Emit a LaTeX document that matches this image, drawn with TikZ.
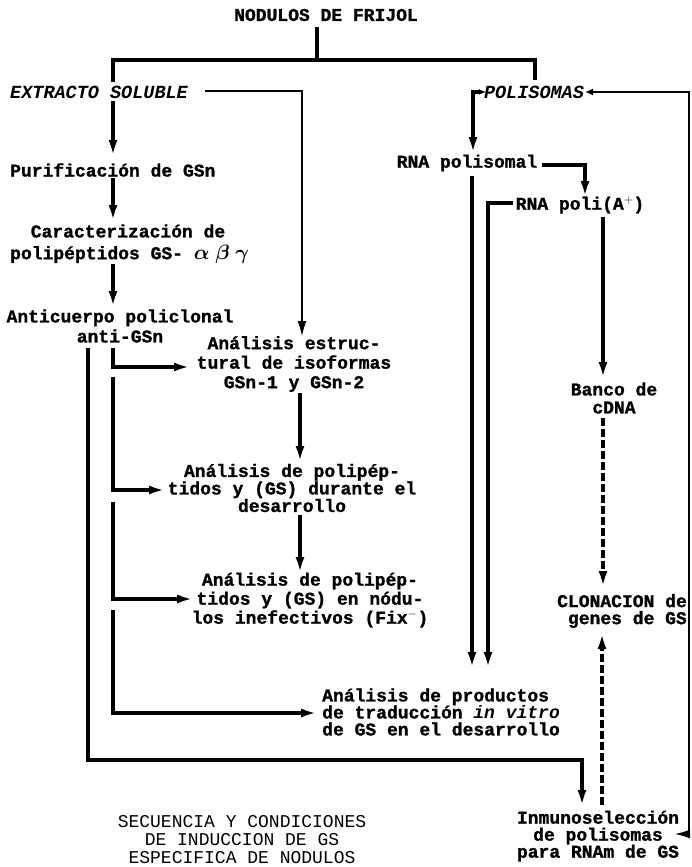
\documentclass[tikz,border=0pt]{standalone}
\usepackage{fontspec}
\usepackage{bm}
\usetikzlibrary{arrows.meta}
\newfontfamily\tw{Liberation Mono}[BoldFeatures={FakeBold=1.2}]
\begin{document}
\begin{tikzpicture}[x=1pt,y=-1pt,
  txt/.style={font=\tw\bfseries\fontsize{18}{18}\selectfont, inner sep=0pt, align=center},
  itx/.style={txt, font=\tw\bfseries\itshape\fontsize{18.5}{18.5}\selectfont},
  ln/.style={line width=3.2pt},
  thin/.style={line width=2.4pt},
  tip/.tip={Latex[length=16pt,width=9pt]},
  arr/.style={ln,-tip},
  dsh/.style={arr, dash pattern=on 8pt off 3pt}]
\useasboundingbox[fill=white] (0,0) rectangle (691,867);

% nodes
\node[txt] (nod) at (326,15) {NODULOS DE FRIJOL};
\node[itx, anchor=west] (ext) at (10,92) {EXTRACTO SOLUBLE};
\node[itx] (pol) at (534,92) {POLISOMAS};
\node[txt, anchor=west] (pur) at (10,170) {Purificación de GSn};
\node[txt] (car) at (128,231) {Caracterización de};
\node[txt, anchor=west] (car2) at (10,254) {polipéptidos GS- {\fontsize{20}{20}\selectfont$\bm{\alpha}\;\bm{\beta}\;\bm{\gamma}$}};
\node[txt, font=\tw\bfseries\fontsize{18}{20}\selectfont] (anti) at (120,326) {Anticuerpo policlonal\\anti-GSn};
\node[txt, font=\tw\bfseries\fontsize{18}{19.5}\selectfont] (est) at (294,364) {Análisis estruc-\\tural de isoformas\\GSn-1 y GSn-2};
\node[txt, font=\tw\bfseries\fontsize{18}{17.5}\selectfont] (p1) at (292,488) {Análisis de polipép-\\tidos y (GS) durante el\\desarrollo};
\node[txt, font=\tw\bfseries\fontsize{18}{19}\selectfont] (p2) at (310,600) {Análisis de polipép-\\tidos y (GS) en nódu-\\los inefectivos (Fix$^{-}$)};
\node[txt, font=\tw\bfseries\fontsize{18}{17}\selectfont, align=left, anchor=west] (prod) at (322,712) {Análisis de productos\\de traducción {\itshape in vitro}\\de GS en el desarrollo};
\node[txt] (rp) at (467,163) {RNA polisomal};
\node[txt] (rpa) at (580,205) {RNA poli(A$^{+}$)};
\node[txt] (banco) at (614,398) {Banco de\\cDNA};
\node[txt, font=\tw\bfseries\fontsize{18}{17}\selectfont, align=right, anchor=east] (clon) at (687,611) {CLONACION de\\genes de GS};
\node[txt, font=\tw\bfseries\fontsize{18}{17}\selectfont] (inm) at (598,836) {Inmunoselección\\de polisomas\\para RNAm de GS};
\node[txt, font=\tw\fontsize{18}{18}\selectfont] (sec) at (242,840) {SECUENCIA Y CONDICIONES\\DE INDUCCION DE GS\\ESPECIFICA DE NODULOS};

% corner coordinates
\coordinate (trunkT) at (317,27);
\coordinate (trunk) at (317,60);
\coordinate (barL) at (113,60);
\coordinate (barR) at (535,60);

% connectors
\draw[ln] (trunkT) -- (trunk);
\draw[ln] (113,82) -- (barL) -- (barR) -- (535,80);
\draw[arr] (113,101) -- (113,156);
\draw[ln, {Latex[length=7pt,width=6pt]}-tip] (486,92) -- (473,92) -- (473,153);
\draw[thin,-tip] (205,91) -- (302,91) -- (302,337);
\draw[arr] (113,178) -- (113,221);
\draw[arr] (113,264) -- (113,307);
\draw[arr] (88,348) -- (88,760) -- (582,760) -- (582,806);
\draw[arr] (113,348) -- (113,367) -- (190,367);
\draw[arr] (113,377) -- (113,490) -- (165,490);
\draw[arr] (113,502) -- (113,599) -- (193,599);
\draw[arr] (113,610) -- (113,713) -- (317,713);
\draw[arr] (300,393) -- (300,462);
\draw[arr] (300,515) -- (300,573);
\draw[arr] (542,165) -- (585,165) -- (585,197);
\draw[arr] (472,176) -- (472,668);
\draw[arr] (513,203) -- (488,203) -- (488,668);
\draw[arr] (603,217) -- (603,378);
\draw[dsh] (603,418) -- (603,587);
\draw[dsh] (602,805) -- (602,633);
\draw[thin, {Latex[length=8pt,width=7pt]}-tip] (585,92) -- (689,92) -- (689,834) -- (674,834);
\end{tikzpicture}
\end{document}
